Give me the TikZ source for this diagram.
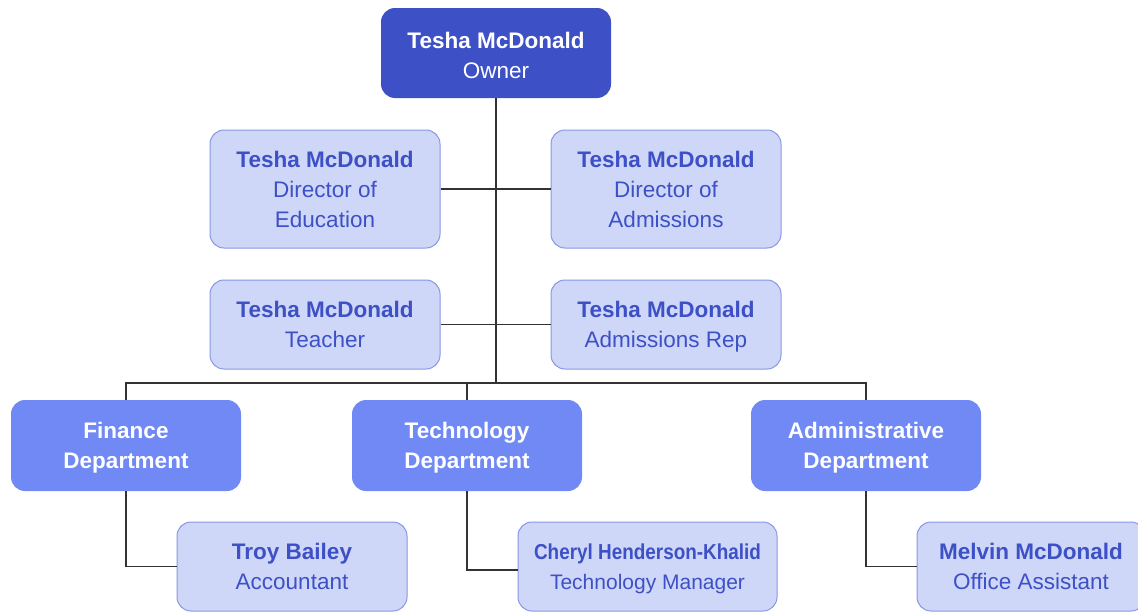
\documentclass[tikz,border=0pt]{standalone}
\usepackage{fontspec}
\usepackage{graphicx}
\setmainfont{Liberation Sans}
\definecolor{darkb}{HTML}{3D50C6}
\definecolor{midb}{HTML}{7089F4}
\definecolor{lightb}{HTML}{CFD7F8}
\definecolor{lightbd}{HTML}{8797E6}
\definecolor{linec}{HTML}{333333}
\newcommand{\tps}{\rule{0pt}{23pt}}
\newcommand{\bts}{\rule[-7pt]{0pt}{7pt}}
\begin{document}
\begin{tikzpicture}[x=1pt,y=-1pt,
  base/.style={rounded corners=14pt, align=center, inner sep=0pt,
    minimum width=230pt, minimum height=90pt,
    font=\fontsize{22.5}{30}\selectfont},
  topbox/.style={base, fill=darkb, text=white},
  deptbox/.style={base, fill=midb, text=white, minimum height=91pt},
  staffbox/.style={base, fill=lightb, draw=lightbd, line width=1pt, text=darkb},
  conn/.style={draw=linec, line width=1.5pt}]
\useasboundingbox (0,0) rectangle (1138,613);
\node[topbox] (own) at (496,53) {\rule{0pt}{27pt}\textbf{Tesha McDonald}\\Owner\bts};
\node[staffbox, minimum height=118pt] (edu) at (325,189) {\tps\textbf{Tesha McDonald}\\Director of\\Education\bts};
\node[staffbox, minimum height=118pt] (adm) at (666,189) {\tps\textbf{Tesha McDonald}\\Director of\\Admissions\bts};
\node[staffbox, minimum height=89pt] (tea) at (325,324.5) {\tps\textbf{Tesha McDonald}\\Teacher\bts};
\node[staffbox, minimum height=89pt] (rep) at (666,324.5) {\tps\textbf{Tesha McDonald}\\Admissions Rep\bts};
\node[deptbox] (fin) at (126,445.5) {\tps\textbf{Finance}\\\textbf{Department}\bts};
\node[deptbox] (tec) at (467,445.5) {\tps\textbf{Technology}\\\textbf{Department}\bts};
\node[deptbox] (adn) at (866,445.5) {\tps\textbf{Administrative}\\\textbf{Department}\bts};
\node[staffbox, minimum height=89pt] (troy) at (292,566.5) {\tps\textbf{Troy Bailey}\\Accountant\bts};
\node[staffbox, minimum height=89pt, minimum width=259pt, font=\fontsize{21}{30}\selectfont] (cher) at (647.5,566.5) {\tps\scalebox{0.9}[1.03]{\textbf{Cheryl Henderson-Khalid}}\\Technology Manager\bts};
\node[staffbox, minimum height=89pt, minimum width=228pt] (mel) at (1031,566.5) {\tps\textbf{Melvin McDonald}\\Office Assistant\bts};
\coordinate (bus) at (496,383);
\draw[conn] (own.south) -- (bus);
\draw[conn] (edu.east) -- (adm.west);
\draw[conn] (tea.east) -- (rep.west);
\draw[conn] (fin.north) |- (bus) -| (adn.north);
\draw[conn] (tec.north) -- (tec.north |- bus);
\draw[conn] (fin.south) |- (troy.west);
\draw[conn] (tec.south) |- ([yshift=-3.5pt]cher.west);
\draw[conn] (adn.south) |- (mel.west);
\end{tikzpicture}
\end{document}
